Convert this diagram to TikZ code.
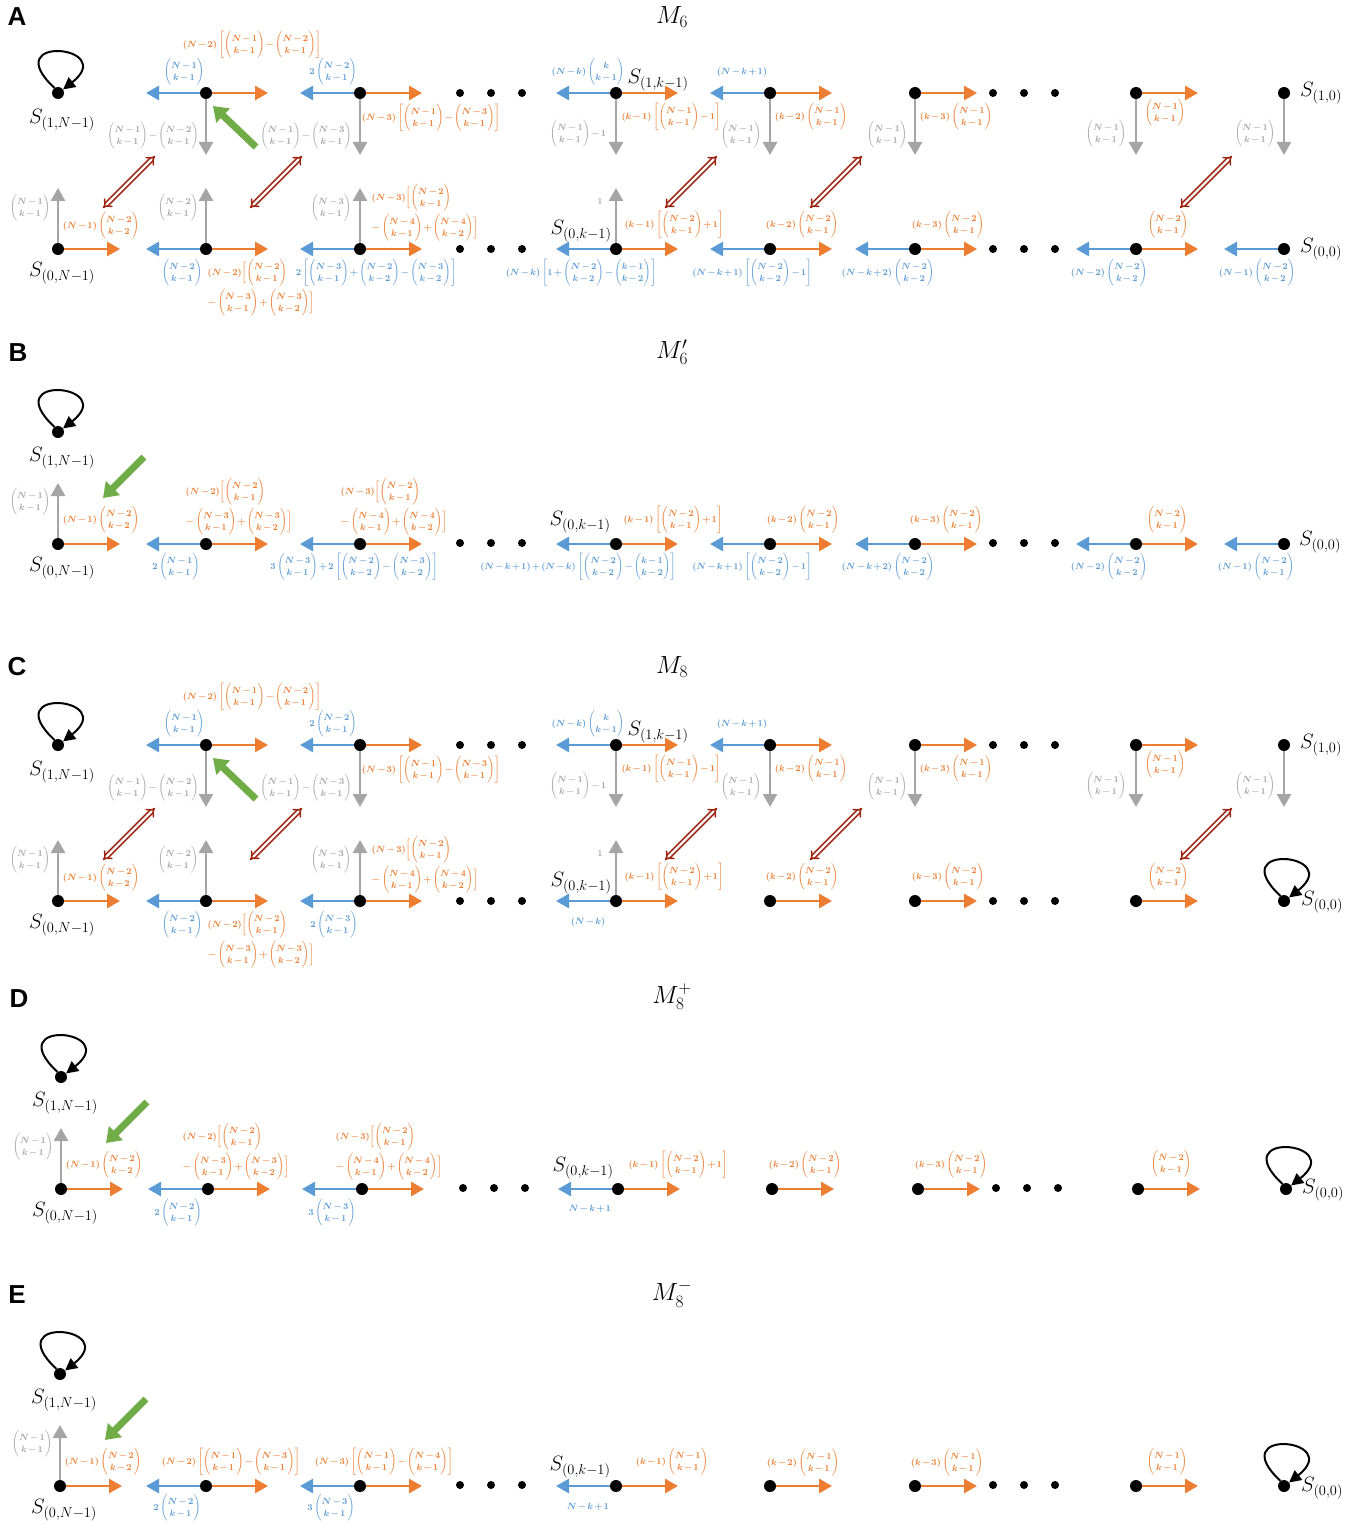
\documentclass[tikz,border=0pt]{standalone}
\usepackage{amsmath}
\usepackage{fontspec}
\setsansfont{Liberation Sans}
\usetikzlibrary{arrows.meta,calc}
\definecolor{trblue}{RGB}{91,155,213}
\definecolor{trorange}{RGB}{237,125,49}
\definecolor{trgray}{RGB}{165,165,165}
\definecolor{trgreen}{RGB}{112,173,71}
\definecolor{trred}{RGB}{158,32,12}
\newcommand{\labfont}{\fontsize{9}{12.5}\selectfont\boldmath}
\newcommand{\tightmath}{\medmuskip=2mu\relax}
\tikzset{
  stn/.style={circle, fill=black, inner sep=0pt, minimum size=12pt},
  oarr/.style={draw=trorange, line width=2.6pt, -{Triangle[length=13pt,width=14pt]}},
  barr/.style={draw=trblue, line width=2.6pt, -{Triangle[length=13pt,width=14pt]}},
  garr/.style={draw=trgray, line width=2.6pt, -{Triangle[length=13pt,width=14pt]}},
  swp/.style={draw=trred, double=white, double distance=2.4pt, line width=1.5pt, {Implies}-{Implies}},
  grn/.style={draw=trgreen, line width=7pt, -{Triangle[length=14pt,width=19pt]}},
  loopy/.style={draw=black, line width=2pt, -{Triangle[length=12pt,width=12pt]}},
  lab/.style={font=\labfont, execute at begin node=\tightmath, inner sep=0.5pt},
  olab/.style={lab, text=trorange},
  blab/.style={lab, text=trblue},
  glab/.style={lab, text=trgray},
  slab/.style={font=\fontsize{20}{22}\selectfont, inner sep=0pt},
  ttl/.style={font=\fontsize{24}{26}\selectfont, inner sep=0pt},
  pnl/.style={font=\sffamily\bfseries\fontsize{26}{28}\selectfont, inner sep=0pt},
}
\newcommand{\bi}[2]{\left(\begin{matrix}#1\\#2\end{matrix}\right)}
\newcommand{\statenode}[3]{\node[stn] (#1) at ({#2},{#3}) {};}
\newcommand{\goR}[1]{\coordinate (#1-r) at ($(#1)+(62,0)$); \draw[oarr] (#1) -- (#1-r);}
\newcommand{\goL}[1]{\coordinate (#1-l) at ($(#1)+(-60,0)$); \draw[barr] (#1) -- (#1-l);}
\newcommand{\goD}[1]{\coordinate (#1-d) at ($(#1)+(0,62)$); \draw[garr] (#1) -- (#1-d);}
\newcommand{\goU}[1]{\coordinate (#1-u) at ($(#1)+(0,-61)$); \draw[garr] (#1) -- (#1-u);}
\newcommand{\selfloop}[1]{\draw[loopy] (#1.125) .. controls +(-58,-54) and +(56,-44) .. (#1.35);}
\newcommand{\swaparrow}[3]{\coordinate (#1-a) at ({#2},{#3}); \coordinate (#1-b) at ({#2+52},{#3-52}); \draw[swp] (#1-a) -- (#1-b);}
\newcommand{\pusharrow}[5]{\coordinate (#1-a) at ({#2},{#3}); \coordinate (#1-b) at ({#4},{#5}); \draw[grn] (#1-a) -- (#1-b);}
\newcommand{\dotrow}[2]{\foreach \x in {0,31,62} {\fill ({#1+\x},{#2}) circle (4pt);}}
% two-row lattice of panels A and C
\newcommand{\lattice}[2]{%
  % upper row
  \statenode{#1t0}{58}{93+#2}
  \foreach \n/\x in {1/206,2/360,3/616,4/770,5/915,6/1136,7/1284} {\statenode{#1t\n}{\x}{93+#2}}
  \selfloop{#1t0}
  \foreach \n in {1,...,4} {\goL{#1t\n}}
  \foreach \n in {1,...,6} {\goR{#1t\n}}
  \foreach \n in {1,...,7} {\goD{#1t\n}}
  \dotrow{460}{93+#2}\dotrow{993}{93+#2}
  \node[slab] (#1q0) at (62,{120+#2}) {$S_{(1,N-1)}$};
  \node[olab] (#1q1) at (252,{45+#2}) {$(N-2)\left[\bi{N-1}{k-1}-\bi{N-2}{k-1}\right]$};
  \node[blab] (#1q2) at (184,{72+#2}) {$\bi{N-1}{k-1}$};
  \node[glab] (#1q3) at (153,{136+#2}) {$\bi{N-1}{k-1}-\bi{N-2}{k-1}$};
  \node[blab] (#1q4) at (333,{72+#2}) {$2\bi{N-2}{k-1}$};
  \node[olab] (#1q5) at (431,{118+#2}) {$(N-3)\left[\bi{N-1}{k-1}-\bi{N-3}{k-1}\right]$};
  \node[glab] (#1q6) at (306,{136+#2}) {$\bi{N-1}{k-1}-\bi{N-3}{k-1}$};
  \node[blab] (#1q7) at (588,{72+#2}) {$(N-k)\bi{k}{k-1}$};
  \node[slab] (#1q8) at (658,{80+#2}) {$S_{(1,k-1)}$};
  \node[olab] (#1q9) at (671,{117+#2}) {$(k-1)\left[\bi{N-1}{k-1}-1\right]$};
  \node[glab] (#1q10) at (578,{134+#2}) {$\bi{N-1}{k-1}-1$};
  \node[blab] (#1q11) at (742,{72+#2}) {$(N-k+1)$};
  \node[olab] (#1q12) at (811,{117+#2}) {$(k-2)\bi{N-1}{k-1}$};
  \node[glab] (#1q13) at (741,{135+#2}) {$\bi{N-1}{k-1}$};
  \node[olab] (#1q14) at (956,{117+#2}) {$(k-3)\bi{N-1}{k-1}$};
  \node[glab] (#1q15) at (887,{135+#2}) {$\bi{N-1}{k-1}$};
  \node[olab] (#1q16) at (1165,{113+#2}) {$\bi{N-1}{k-1}$};
  \node[glab] (#1q17) at (1106,{134+#2}) {$\bi{N-1}{k-1}$};
  \node[glab] (#1q18) at (1255,{134+#2}) {$\bi{N-1}{k-1}$};
  \node[slab] (#1q19) at (1321,{93+#2}) {$S_{(1,0)}$};
  % lower row
  \statenode{#1b0}{58}{249+#2}
  \foreach \n/\x in {1/206,2/360,3/616,4/770,5/915,6/1136,7/1284} {\statenode{#1b\n}{\x}{249+#2}}
  \foreach \n in {0,...,3} {\goU{#1b\n}}
  \foreach \n in {1,...,3} {\goL{#1b\n}}
  \foreach \n in {0,...,6} {\goR{#1b\n}}
  \dotrow{460}{249+#2}\dotrow{993}{249+#2}
  \node[glab] (#1p1) at (30,{208+#2}) {$\bi{N-1}{k-1}$};
  \node[olab] (#1p2) at (101,{226+#2}) {$(N-1)\bi{N-2}{k-2}$};
  \node[slab] (#1p3) at (62,{273+#2}) {$S_{(0,N-1)}$};
  \node[glab] (#1p4) at (178,{208+#2}) {$\bi{N-2}{k-1}$};
  \node[blab] (#1p5) at (182,{273+#2}) {$\bi{N-2}{k-1}$};
  \node[olab, anchor=west, align=left] (#1p6) at (207,{288+#2}) {$(N-2)\biggl[\bi{N-2}{k-1}$\\[2pt]$-\bi{N-3}{k-1}+\bi{N-3}{k-2}\biggr]$};
  \node[glab] (#1p7) at (331,{208+#2}) {$\bi{N-3}{k-1}$};
  \node[olab, anchor=west, align=left] (#1p8) at (371,{213+#2}) {$(N-3)\biggl[\bi{N-2}{k-1}$\\[2pt]$-\bi{N-4}{k-1}+\bi{N-4}{k-2}\biggr]$};
  \node[glab] (#1p9) at (600,{202+#2}) {$1$};
  \node[slab] (#1p10) at (581,{231+#2}) {$S_{(0,k-1)}$};
  \node[olab] (#1p11) at (674,{225+#2}) {$(k-1)\left[\bi{N-2}{k-1}+1\right]$};
  \node[olab] (#1p12) at (802,{225+#2}) {$(k-2)\bi{N-2}{k-1}$};
  \node[olab] (#1p13) at (948,{225+#2}) {$(k-3)\bi{N-2}{k-1}$};
  \node[olab] (#1p14) at (1168,{225+#2}) {$\bi{N-2}{k-1}$};
  % swaps and push
  \foreach \x [count=\i] in {103,250,665,810,1180} {\swaparrow{#1x\i}{\x}{208+#2}}
  \pusharrow{#1g}{256}{147+#2}{213}{106+#2}
}
% left corner of panels B, D and E
\newcommand{\corner}[3]{%
  \statenode{#1t0}{#2}{#3-112}
  \selfloop{#1t0}
  \node[slab] (#1q0) at ({#2+4},{#3-86}) {$S_{(1,N-1)}$};
  \statenode{#1b0}{#2}{#3}
  \goU{#1b0}\goR{#1b0}
  \node[glab] (#1p1) at ({#2-28},{#3-42}) {$\bi{N-1}{k-1}$};
  \node[olab] (#1p2) at ({#2+43},{#3-24}) {$(N-1)\bi{N-2}{k-2}$};
  \node[slab] (#1p3) at ({#2+4},{#3+24}) {$S_{(0,N-1)}$};
  \pusharrow{#1g}{#2+86}{#3-87}{#2+45}{#3-46}
}
\begin{document}
\begin{tikzpicture}[x=1pt, y=-1pt]
  \fill[white] (0,0) rectangle (1370,1525);
  \useasboundingbox (0,0) rectangle (1370,1525);

  % ---------------- A ----------------
  \node[pnl] (pA) at (17,17) {A};
  \node[ttl] (tA) at (672,17) {$M_6$};
  \lattice{A}{0}
  \foreach \n in {4,...,7} {\goL{Ab\n}}
  \node[blab] (Ar2) at (376,273) {$2\left[\bi{N-3}{k-1}+\bi{N-2}{k-2}-\bi{N-3}{k-2}\right]$};
  \node[blab] (Ar3) at (581,273) {$(N-k)\left[1+\bi{N-2}{k-2}-\bi{k-1}{k-2}\right]$};
  \node[blab] (Ar4) at (752,273) {$(N-k+1)\left[\bi{N-2}{k-2}-1\right]$};
  \node[blab] (Ar5) at (888,273) {$(N-k+2)\bi{N-2}{k-2}$};
  \node[blab] (Ar6) at (1109,273) {$(N-2)\bi{N-2}{k-2}$};
  \node[blab] (Ar7) at (1257,273) {$(N-1)\bi{N-2}{k-2}$};
  \node[slab] (As0) at (1321,249) {$S_{(0,0)}$};

  % ---------------- B ----------------
  \node[pnl] (pB) at (18,353) {B};
  \node[ttl] (tB) at (672,352) {$M'_6$};
  \corner{B}{58}{544}
  \foreach \n/\x in {1/206,2/360,3/616,4/770,5/915,6/1136,7/1284} {\statenode{Bb\n}{\x}{544}}
  \foreach \n in {1,...,7} {\goL{Bb\n}}
  \foreach \n in {1,...,6} {\goR{Bb\n}}
  \dotrow{460}{543}\dotrow{993}{543}
  \node[olab, anchor=west, align=left] (Br1) at (185,{507}) {$(N-2)\biggl[\bi{N-2}{k-1}$\\[2pt]$-\bi{N-3}{k-1}+\bi{N-3}{k-2}\biggr]$};
  \node[olab, anchor=west, align=left] (Br2) at (340,{507}) {$(N-3)\biggl[\bi{N-2}{k-1}$\\[2pt]$-\bi{N-4}{k-1}+\bi{N-4}{k-2}\biggr]$};
  \node[blab] (Br3) at (176,567) {$2\bi{N-1}{k-1}$};
  \node[blab] (Br4) at (354,567) {$3\bi{N-3}{k-1}+2\left[\bi{N-2}{k-2}-\bi{N-3}{k-2}\right]$};
  \node[slab] (Br5) at (580,522) {$S_{(0,k-1)}$};
  \node[olab] (Br6) at (673,520) {$(k-1)\left[\bi{N-2}{k-1}+1\right]$};
  \node[blab] (Br7) at (578,567) {$(N-k+1)+(N-k)\left[\bi{N-2}{k-2}-\bi{k-1}{k-2}\right]$};
  \node[olab] (Br8) at (803,520) {$(k-2)\bi{N-2}{k-1}$};
  \node[blab] (Br9) at (752,567) {$(N-k+1)\left[\bi{N-2}{k-2}-1\right]$};
  \node[olab] (Br10) at (946,520) {$(k-3)\bi{N-2}{k-1}$};
  \node[blab] (Br11) at (888,567) {$(N-k+2)\bi{N-2}{k-2}$};
  \node[olab] (Br12) at (1167,520) {$\bi{N-2}{k-1}$};
  \node[blab] (Br13) at (1109,567) {$(N-2)\bi{N-2}{k-2}$};
  \node[blab] (Br14) at (1256,567) {$(N-1)\bi{N-2}{k-1}$};
  \node[slab] (Bs0) at (1320,542) {$S_{(0,0)}$};

  % ---------------- C ----------------
  \node[pnl] (pC) at (17,667) {C};
  \node[ttl] (tC) at (672,667) {$M_8$};
  \lattice{C}{652}
  \node[blab] (Cr2) at (334,925) {$2\bi{N-3}{k-1}$};
  \node[blab] (Cr3) at (588,922) {$(N-k)$};
  \selfloop{Cb7}
  \node[slab] (Cs0) at (1322,902) {$S_{(0,0)}$};

  % ---------------- D ----------------
  \node[pnl] (pD) at (19,999) {D};
  \node[ttl] (tD) at (672,997) {$M^{+}_8$};
  \corner{D}{61}{1189}
  \foreach \n/\x in {1/208,2/362,3/618,4/772,5/918,6/1138,7/1286} {\statenode{Db\n}{\x}{1189}}
  \foreach \n in {1,...,3} {\goL{Db\n}}
  \foreach \n in {1,...,6} {\goR{Db\n}}
  \selfloop{Db7}
  \dotrow{463}{1188}\dotrow{996}{1188}
  \node[olab, anchor=west, align=left] (Dr1) at (182,1152) {$(N-2)\biggl[\bi{N-2}{k-1}$\\[2pt]$-\bi{N-3}{k-1}+\bi{N-3}{k-2}\biggr]$};
  \node[olab, anchor=west, align=left] (Dr2) at (335,1152) {$(N-3)\biggl[\bi{N-2}{k-1}$\\[2pt]$-\bi{N-4}{k-1}+\bi{N-4}{k-2}\biggr]$};
  \node[blab] (Dr3) at (178,1213) {$2\bi{N-2}{k-1}$};
  \node[blab] (Dr4) at (332,1213) {$3\bi{N-3}{k-1}$};
  \node[slab] (Dr5) at (583,1168) {$S_{(0,k-1)}$};
  \node[olab] (Dr6) at (678,1165) {$(k-1)\left[\bi{N-2}{k-1}+1\right]$};
  \node[blab] (Dr7) at (590,1209) {$N-k+1$};
  \node[olab] (Dr8) at (805,1165) {$(k-2)\bi{N-2}{k-1}$};
  \node[olab] (Dr9) at (951,1165) {$(k-3)\bi{N-2}{k-1}$};
  \node[olab] (Dr10) at (1171,1164) {$\bi{N-2}{k-1}$};
  \node[slab] (Ds0) at (1323,1190) {$S_{(0,0)}$};

  % ---------------- E ----------------
  \node[pnl] (pE) at (17,1295) {E};
  \node[ttl] (tE) at (672,1294) {$M^{-}_8$};
  \corner{E}{60}{1486}
  \foreach \n/\x in {1/206,2/360,3/616,4/770,5/915,6/1136,7/1284} {\statenode{Eb\n}{\x}{1486}}
  \foreach \n in {1,...,3} {\goL{Eb\n}}
  \foreach \n in {1,...,6} {\goR{Eb\n}}
  \selfloop{Eb7}
  \dotrow{460}{1485}\dotrow{993}{1485}
  \node[olab] (Er1) at (231,1462) {$(N-2)\left[\bi{N-1}{k-1}-\bi{N-3}{k-1}\right]$};
  \node[olab] (Er2) at (384,1462) {$(N-3)\left[\bi{N-1}{k-1}-\bi{N-4}{k-1}\right]$};
  \node[blab] (Er3) at (177,1508) {$2\bi{N-2}{k-1}$};
  \node[blab] (Er4) at (331,1508) {$3\bi{N-3}{k-1}$};
  \node[slab] (Er5) at (580,1467) {$S_{(0,k-1)}$};
  \node[olab] (Er6) at (672,1462) {$(k-1)\bi{N-1}{k-1}$};
  \node[blab] (Er7) at (588,1507) {$N-k+1$};
  \node[olab] (Er8) at (803,1463) {$(k-2)\bi{N-1}{k-1}$};
  \node[olab] (Er9) at (947,1463) {$(k-3)\bi{N-1}{k-1}$};
  \node[olab] (Er10) at (1167,1462) {$\bi{N-1}{k-1}$};
  \node[slab] (Es0) at (1322,1488) {$S_{(0,0)}$};
\end{tikzpicture}
\end{document}
